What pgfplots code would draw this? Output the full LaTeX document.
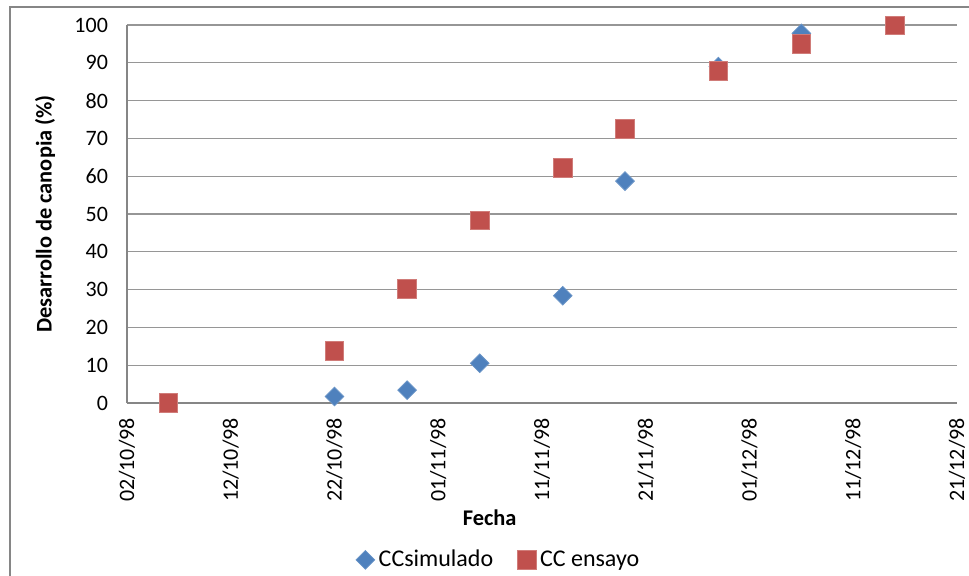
\documentclass[border=0pt]{standalone}
\usepackage{fontspec}
\setmainfont{Carlito}
\usepackage{pgfplots}
\pgfplotsset{compat=1.18}

\definecolor{ccblue}{RGB}{79,129,189}
\definecolor{ccred}{RGB}{192,80,77}
\definecolor{axgray}{RGB}{134,134,134}
\definecolor{gridgray}{RGB}{150,150,150}

\begin{document}
\begin{tikzpicture}
\begin{axis}[
  scale only axis,
  width=415pt, height=189pt,
  xmin=0, xmax=80, ymin=0, ymax=100,
  xtick={0,10,...,80},
  xticklabels={02/10/98,12/10/98,22/10/98,01/11/98,11/11/98,21/11/98,01/12/98,11/12/98,21/12/98},
  ytick={0,10,...,100},
  axis x line*=bottom, axis y line*=left,
  axis line style={axgray, line width=0.7pt},
  ymajorgrids, grid style={gridgray, line width=0.6pt},
  major tick length=0pt,
  /pgf/number format/assume math mode=true,
  tick label style={font=\fontsize{11}{13}\selectfont, black},
  yticklabel style={xshift=-6pt},
  xticklabel style={rotate=90, anchor=east},
  xticklabel shift=4pt,
  xlabel={\textbf{Fecha}},
  ylabel={\textbf{Desarrollo de canopia (\%)}},
  label style={font=\fontsize{11.2}{13}\selectfont},
  xlabel style={at={(axis description cs:0.437,-0.304)}, anchor=center},
  ylabel style={at={(axis description cs:-0.0988,0.5)}, anchor=center},
  legend style={at={(axis description cs:0.449,-0.415)}, anchor=center,
    draw=none, fill=none, font=\fontsize{12}{14}\selectfont,
    legend columns=2, /tikz/every even column/.append style={column sep=10pt}},
  legend cell align=left,
  clip=false,
]
% simulated canopy cover
\addplot[only marks, mark=square*, mark size=3.3pt,
  mark options={rotate=45, draw=ccblue!85!white, fill=ccblue}]
  coordinates {(20,1.7) (27,3.4) (34,10.5) (42,28.4) (48,58.7) (57,89.0) (65,97.8)};
\addlegendentry{CCsimulado}
% observed canopy cover (field trial)
\addplot[only marks, mark=square*, mark size=4.7pt,
  mark options={draw=ccred!75!white, fill=ccred}]
  coordinates {(4,0) (20,13.8) (27,30.1) (34,48.3) (42,62.1) (48,72.6) (57,87.9) (65,95.1) (74,99.9)};
\addlegendentry{CC ensayo}
\end{axis}
% chart frame
\draw[axgray, line width=1pt] (-58.5pt,-95pt) -- (-58.5pt,198pt) -- (430pt,198pt);
\pgfresetboundingbox
\path (-63.5pt,-86pt) rectangle (421pt,201.5pt);
\end{tikzpicture}
\end{document}
